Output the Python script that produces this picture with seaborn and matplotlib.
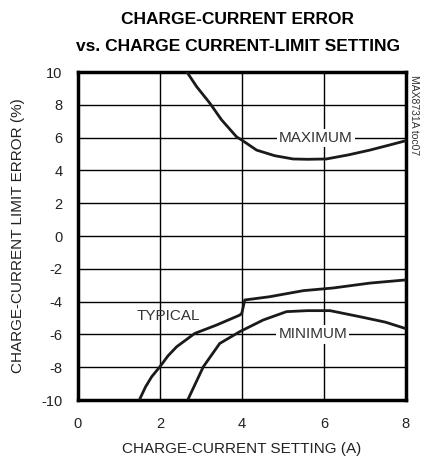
import matplotlib
matplotlib.use("Agg")
import matplotlib.pyplot as plt
import seaborn as sns
import pandas as pd

max_x = [2.66, 2.9, 3.22, 3.5, 3.87, 4.0, 4.36, 4.8, 5.25, 5.6, 6.06, 6.6, 7.12, 7.6, 7.98]
max_y = [10.0, 9.1, 8.1, 7.1, 6.05, 5.85, 5.24, 4.9, 4.7, 4.68, 4.7, 4.95, 5.24, 5.55, 5.8]

typ_x = [1.51, 1.65, 1.8, 2.0, 2.2, 2.41, 2.85, 3.38, 3.95, 4.0, 4.07, 4.68, 5.5, 6.22, 7.12, 7.98]
typ_y = [-9.94, -9.2, -8.58, -7.97, -7.3, -6.75, -5.94, -5.43, -4.82, -4.7, -3.9, -3.7, -3.33, -3.17, -2.87, -2.68]

min_x = [2.69, 3.06, 3.46, 3.95, 4.52, 5.09, 5.6, 6.15, 6.88, 7.5, 7.98]
min_y = [-9.94, -7.97, -6.55, -5.83, -5.12, -4.61, -4.55, -4.55, -4.92, -5.25, -5.63]

x_ticks = [0, 2, 4, 6, 8]
y_ticks = [-10, -8, -6, -4, -2, 0, 2, 4, 6, 8, 10]

sns.set_theme(style="white")
narrow = ["Liberation Sans Narrow", "Liberation Sans", "DejaVu Sans"]
plt.rcParams["font.family"] = narrow

df = pd.concat([
    pd.DataFrame({"x": max_x, "y": max_y, "s": "MAXIMUM"}),
    pd.DataFrame({"x": typ_x, "y": typ_y, "s": "TYPICAL"}),
    pd.DataFrame({"x": min_x, "y": min_y, "s": "MINIMUM"}),
])

fig = plt.figure(figsize=(4.21, 4.59), dpi=100)
ax = fig.add_axes([0.185, 0.1285, 0.779, 0.7145])

for name in ["MAXIMUM", "TYPICAL", "MINIMUM"]:
    sub = df[df["s"] == name]
    sns.lineplot(data=sub, x="x", y="y", ax=ax, color="#1a1a1a", linewidth=2.0,
                 sort=False, estimator=None, legend=False, zorder=3)

ax.set_xlim(0, 8)
ax.set_ylim(-10, 10)
ax.set_xticks(x_ticks)
ax.set_yticks(y_ticks)
ax.set_xticklabels([str(v) for v in x_ticks], fontsize=10.5, color="#222222")
ax.set_yticklabels([str(v) for v in y_ticks], fontsize=10.5, color="#222222")
ax.tick_params(axis="x", length=0, pad=12)
ax.tick_params(axis="y", length=0, pad=11)
ax.grid(True, color="black", linewidth=1.0)
ax.set_axisbelow(True)
for sp in ax.spines.values():
    sp.set_visible(True)
    sp.set_color("black")
    sp.set_linewidth(2.5)

ax.set_xlabel("CHARGE-CURRENT SETTING (A)", fontsize=11, color="#222222", labelpad=8)
ax.set_ylabel("CHARGE-CURRENT LIMIT ERROR (%)", fontsize=11, color="#222222", labelpad=12)

bbox = dict(facecolor="white", edgecolor="none", pad=1.5)
ax.text(5.8, 6.0, "MAXIMUM", fontsize=11, color="#333333", ha="center", va="center", bbox=bbox, zorder=4)
ax.text(5.73, -6.0, "MINIMUM", fontsize=11, color="#333333", ha="center", va="center", bbox=bbox, zorder=4)
ax.text(2.2, -4.85, "TYPICAL", fontsize=11, color="#333333", ha="center", va="center", zorder=4)

fig.text(0.565, 0.958, "CHARGE-CURRENT ERROR", fontsize=12.5, fontweight="bold", ha="center", va="center", color="black")
fig.text(0.565, 0.898, "vs. CHARGE CURRENT-LIMIT SETTING", fontsize=12.5, fontweight="bold", ha="center", va="center", color="black")
fig.text(0.984, 0.75, "MAX8731A toc07", fontsize=7.5, rotation=270, ha="center", va="center", color="#333333")

fig.savefig("out.png", dpi=100)
